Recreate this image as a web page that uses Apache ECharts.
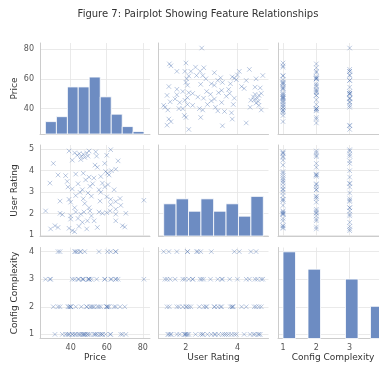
<!DOCTYPE html>
<html>
<head>
<meta charset="utf-8">
<title>Pairplot</title>
</head>
<body style="margin:0;overflow:hidden">
<!-- 图表区域 (右列在原图中被裁掉一部分, 所以画布比窗口略宽) -->
<div id="container" style="width:392px;height:365px;"></div>
<script src="https://cdn.jsdelivr.net/npm/echarts@6/dist/echarts.min.js"></script>
<script>
'use strict'
// 数据: 每个样本一个值
var price = [39.1, 42.2, 43.7, 44.8, 45.9, 47.0, 47.8, 48.9, 50.2, 49.6,
  53.9, 54.4, 62.2, 60.0, 40.9, 45.6, 66.3, 30.4, 53.5, 54.8,
  58.9, 59.4, 60.4, 61.3, 62.6, 65.0, 47.0, 42.8, 37.2, 33.0,
  50.2, 52.9, 56.7, 48.3, 28.5, 38.1, 38.5, 44.1, 50.7, 52.2,
  57.6, 58.9, 60.7, 45.2, 46.5, 49.6, 55.7, 56.7, 64.1, 40.9,
  34.1, 39.1, 40.0, 47.0, 47.8, 56.3, 60.0, 62.2, 65.0, 67.4,
  80.6, 42.8, 51.5, 67.8, 62.2, 50.2, 26.1, 34.1, 35.4, 40.0,
  42.8, 45.6, 50.7, 51.5, 55.7, 57.6, 60.0, 61.9, 65.0, 70.6,
  65.0, 42.2, 47.4, 44.1, 46.5, 49.3, 53.0, 65.0, 68.7, 70.0,
  28.9, 31.3, 33.0, 39.1, 40.9, 42.2, 48.9, 54.8, 44.6, 40.0];
var rating = [4.92, 4.83, 4.72, 4.80, 4.65, 4.77, 4.62, 4.83, 4.92, 4.68,
  4.88, 4.68, 4.98, 4.72, 4.49, 4.52, 4.46, 4.34, 4.26, 4.16,
  4.34, 3.96, 3.88, 3.80, 4.00, 4.07, 3.88, 3.84, 3.77, 3.80,
  3.70, 3.66, 3.73, 3.57, 3.42, 3.50, 3.24, 3.39, 3.27, 3.39,
  3.42, 3.24, 3.35, 2.99, 3.11, 2.96, 3.11, 2.99, 3.11, 3.15,
  2.58, 2.66, 2.53, 2.69, 2.47, 2.58, 2.78, 2.66, 2.56, 2.70,
  2.62, 2.84, 2.81, 2.38, 2.42, 2.27, 2.12, 2.01, 1.95, 1.89,
  2.07, 1.97, 2.12, 1.89, 2.07, 2.01, 2.04, 2.12, 1.97, 2.01,
  2.20, 2.27, 2.07, 1.77, 1.59, 1.66, 1.66, 1.66, 1.43, 1.37,
  1.28, 1.43, 1.35, 1.31, 1.20, 1.15, 1.28, 1.35, 1.40, 1.74];
var complexity = [2, 1, 4, 1, 2, 3, 1, 2, 3, 1,
  1, 3, 3, 2, 1, 4, 3, 2, 1, 2,
  3, 1, 4, 2, 3, 4, 1, 2, 1, 2,
  3, 1, 2, 1, 3, 1, 2, 3, 1, 2,
  1, 3, 2, 4, 1, 3, 2, 1, 2, 1,
  4, 1, 2, 3, 4, 1, 2, 1, 3, 2,
  3, 1, 2, 1, 4, 3, 3, 2, 1, 2,
  4, 1, 2, 3, 4, 1, 2, 1, 3, 1,
  2, 3, 1, 1, 3, 1, 2, 4, 1, 2,
  3, 1, 4, 1, 3, 4, 2, 1, 3, 2];

var varNames = ['Price', 'User Rating', 'Config Complexity'];

// 直方图 (分箱边界和计数)
var priceBins = [26.0, 32.1, 38.2, 44.2, 50.3, 56.4, 62.5, 68.6, 74.6, 80.7];
var priceCounts = [5, 7, 19, 19, 23, 15, 8, 3, 1];
var ratingBins = [1.15, 1.63, 2.11, 2.59, 3.08, 3.56, 4.04, 4.52, 5.0];
var ratingCounts = [13, 15, 10, 15, 10, 13, 8, 16];
var complexityBins = [1, 1.375, 1.75, 2.125, 2.5, 2.875, 3.25, 3.625, 4];
var complexityCounts = [35, 0, 28, 0, 0, 24, 0, 13];

var columns = [price, rating, complexity];
var bins = [priceBins, ratingBins, complexityBins];
var counts = [priceCounts, ratingCounts, complexityCounts];

// 坐标范围 / 刻度间隔
var ranges = [[23, 84], [0.95, 5.2], [0.85, 4.15]];
var xStep = [20, 2, 1];
var yStep = [20, 1, 1];
var xSplit = [3, 2, 3];
var ySplit = [3, 4, 3];

var lefts = [40, 158.5, 278];
var tops = [43, 145, 247.5];
var cellW = 110, cellH = 91;
var font = 'DejaVu Sans';

function stepFormatter(step) {
  return function (v) {
    var k = v / step;
    return Math.abs(k - Math.round(k)) < 1e-6 ? String(Math.round(v * 100) / 100) : '';
  };
}

var grids = [], xAxes = [], yAxes = [], series = [];
for (var r = 0; r < 3; r++) {
  for (var c = 0; c < 3; c++) {
    var k = r * 3 + c;
    grids.push({ left: lefts[c], top: tops[r], width: cellW, height: cellH });
    xAxes.push({
      type: 'value', gridIndex: k, min: ranges[c][0], max: ranges[c][1], splitNumber: xSplit[c],
      name: r === 2 ? varNames[c] : '', nameLocation: 'middle', nameGap: 15,
      nameTextStyle: { fontSize: 9, color: '#333', fontFamily: font },
      axisLine: { onZero: false, lineStyle: { color: '#cccccc', width: 1 } },
      axisTick: { show: false },
      axisLabel: { show: r === 2, fontSize: 8, color: '#555', margin: 5, fontFamily: font, formatter: stepFormatter(xStep[c]) },
      splitLine: { show: true, showMinLine: false, showMaxLine: false, lineStyle: { color: '#e4e4e4', width: 0.8 } }
    });
    yAxes.push({
      type: 'value', gridIndex: k, min: ranges[r][0], max: ranges[r][1], splitNumber: ySplit[r],
      name: c === 0 ? varNames[r] : '', nameLocation: 'middle', nameGap: 21,
      nameTextStyle: { fontSize: 9, color: '#333', fontFamily: font },
      axisLine: { show: true, onZero: false, lineStyle: { color: '#cccccc', width: 1 } },
      axisTick: { show: false },
      axisLabel: { show: c === 0, fontSize: 8, color: '#555', margin: 6, fontFamily: font, formatter: stepFormatter(yStep[r]) },
      splitLine: { show: true, showMinLine: false, showMaxLine: false, lineStyle: { color: '#e4e4e4', width: 0.8 } }
    });
    if (r !== c) {
      var pts = [];
      for (var i = 0; i < price.length; i++) pts.push([columns[c][i], columns[r][i]]);
      series.push({
        type: 'scatter', xAxisIndex: k, yAxisIndex: k, data: pts,
        symbol: 'path://M0,0L10,10M10,0L0,10', symbolSize: 4.5,
        itemStyle: { color: 'none', borderColor: '#4c72b0', borderWidth: 0.7, opacity: 0.55 },
        silent: true, animation: false
      });
    }
  }
}

// 对角线: 直方图使用独立的计数轴
for (var d = 0; d < 3; d++) {
  var gi = d * 4;
  yAxes.push({ type: 'value', gridIndex: gi, min: 0, max: 36.75, show: false, splitLine: { show: false } });
  var histData = [];
  for (var j = 0; j < counts[d].length; j++) {
    if (counts[d][j] > 0) histData.push([bins[d][j], bins[d][j + 1], counts[d][j]]);
  }
  series.push({
    type: 'custom', xAxisIndex: gi, yAxisIndex: 9 + d, data: histData,
    encode: { x: [0, 1], y: 2 }, silent: true, animation: false,
    renderItem: function (params, api) {
      var p0 = api.coord([api.value(0), api.value(2)]);
      var p1 = api.coord([api.value(1), 0]);
      return {
        type: 'rect',
        shape: { x: p0[0], y: p0[1], width: p1[0] - p0[0], height: p1[1] - p0[1] },
        style: { fill: '#6d8cc2', stroke: '#ffffff', lineWidth: 0.8 }
      };
    }
  });
}

var myChart = echarts.init(document.getElementById('container'));
myChart.setOption({
  backgroundColor: '#ffffff',
  animation: false,
  title: {
    text: 'Figure 7: Pairplot Showing Feature Relationships',
    left: 198, top: 9, padding: 0, textAlign: 'center',
    textStyle: { fontSize: 10, fontWeight: 'normal', color: '#333', fontFamily: font }
  },
  grid: grids,
  xAxis: xAxes,
  yAxis: yAxes,
  series: series
});
</script>
</body>
</html>
